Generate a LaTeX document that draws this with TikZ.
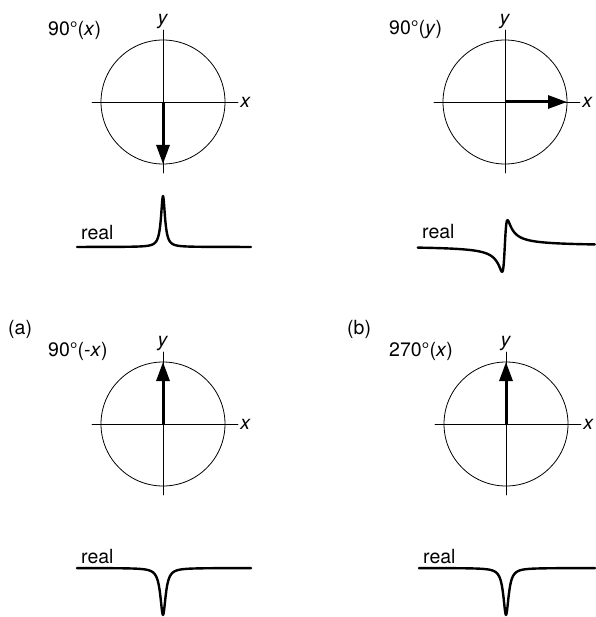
\documentclass[tikz,border=0pt]{standalone}
\usepackage{fontspec}
\setmainfont{TeX Gyre Heros}
\usetikzlibrary{arrows.meta}
\begin{document}
\begin{tikzpicture}[x=1pt, y=-1pt, line cap=round, line join=round,
  font=\fontsize{19.5}{22}\selectfont,
  ring/.style={circle, draw, line width=0.8pt, minimum size=124pt, inner sep=0pt, outer sep=0pt},
  axis/.style={line width=0.8pt},
  vec/.style={line width=3pt, line cap=butt, -{Triangle[length=19pt, width=13pt]}},
  spec/.style={line width=2.4pt, smooth}]
\useasboundingbox (0,0) rectangle (595,617);
\def\w{2.4} \def\v{3.2}
% rotating frames
\foreach \n/\cx/\cy in {tl/163/102, tr/505/102, bl/163/424, br/506/424} {
  \node[ring] (c\n) at (\cx,\cy) {};
  \draw[axis] (c\n.center) ++(-71,0) -- ++(146,0) node[right, inner sep=2pt] (x\n) {\textit{x}};
  \draw[axis] (c\n.center) ++(0,71) -- ++(0,-143) node[above, inner sep=0.5pt] (y\n) {\textit{y}};
}
\draw[vec] (ctl.center) -- (ctl.south);
\draw[vec] (ctr.center) -- (ctr.east);
\draw[vec] (cbl.center) -- (cbl.north);
\draw[vec] (cbr.center) -- (cbr.north);
% pulse labels
\foreach \p/\lbl/\nm in {(48,30)/90°(\textit{x})/ptl, (389,30)/90°(\textit{y})/ptr,
    (48,351)/90°(-\textit{x})/pbl, (389,351)/270°(\textit{x})/pbr,
    (8,329)/(a)/pa, (347,329)/(b)/pb}
  \node[anchor=west, inner sep=0pt] (\nm) at \p {\lbl};
\foreach \p/\nm in {(81,240)/rtl, (422,239)/rtr, (81,563)/rbl, (423,563)/rbr}
  \node[anchor=base west, inner sep=0pt] (\nm) at \p {real};
% spectra
\draw[spec] plot[domain=-86:88, samples=349] ({163+\x}, {247-51*\w*\w/(\x*\x+\w*\w)});
\draw[spec] plot[domain=-87:90, samples=355] ({504.8+\x}, {246-140/(\x*\x+7.3)*\x});
\draw[spec] plot[domain=-86:88, samples=349] ({163+\x}, {568+47*\v*\v/(\x*\x+\v*\v)});
\draw[spec] plot[domain=-87:89, samples=353] ({506+\x}, {568+47*\v*\v/(\x*\x+\v*\v)});
\end{tikzpicture}
\end{document}
